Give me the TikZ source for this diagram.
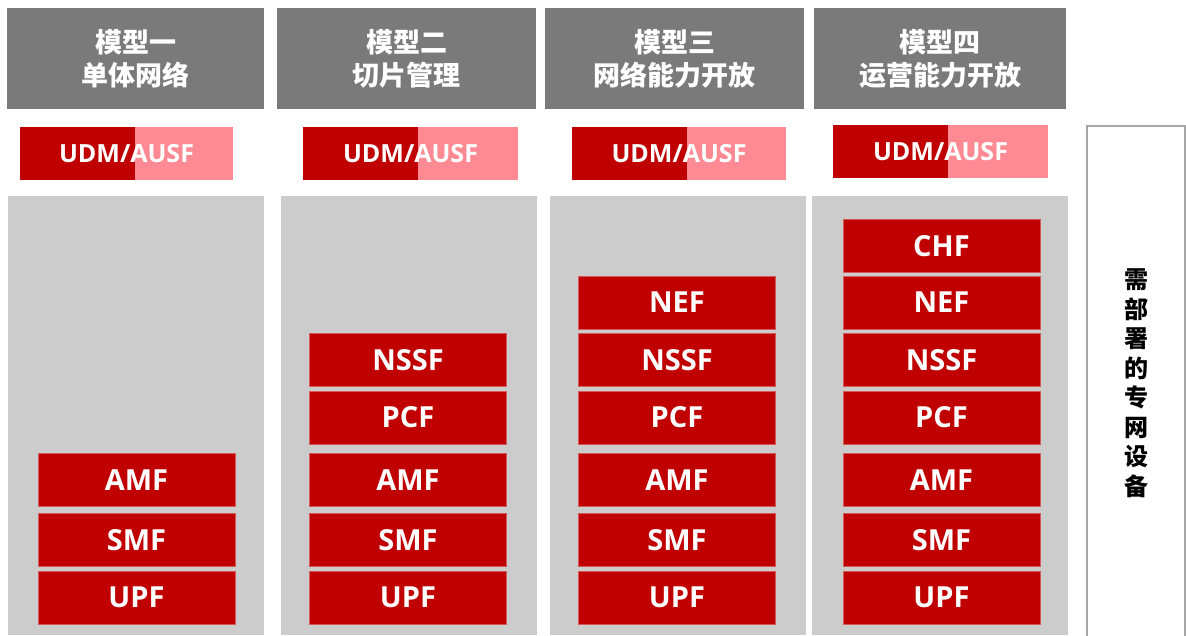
\documentclass[tikz,border=0pt]{standalone}
\usepackage{fontspec}
\setmainfont{Open Sans}
\newfontfamily\cjk{Noto Sans CJK SC}
\definecolor{hdgray}{HTML}{7A7A7A}
\definecolor{ltgray}{HTML}{CCCCCC}
\definecolor{darkred}{HTML}{C00000}
\definecolor{pinkred}{HTML}{FF8A93}
\definecolor{edgered}{HTML}{D65A5A}
\definecolor{boxgray}{HTML}{A6A6A6}

\begin{document}
\begin{tikzpicture}[x=1pt,y=-1pt,
    head/.style={fill=hdgray,text=white,minimum width=257pt,minimum height=101pt,inner sep=0pt,
      align=center,font=\cjk\bfseries\fontsize{27}{33}\selectfont},
    panel/.style={fill=ltgray,minimum width=256pt,minimum height=439pt,inner sep=0pt},
    udm/.style={fill=pinkred,text=white,minimum width=214pt,minimum height=53pt,inner sep=0pt,
      text height=18.5pt,text depth=0pt,font=\bfseries\fontsize{25}{25}\selectfont,
      path picture={\fill[darkred] (path picture bounding box.north west)
        rectangle ([xshift=115pt]path picture bounding box.south west);}},
    nf/.style={fill=darkred,draw=edgered,line width=0.6pt,text=white,minimum width=197pt,
      minimum height=53pt,inner sep=0pt,font=\bfseries\fontsize{29}{29}\selectfont}]
  \useasboundingbox (0,0) rectangle (1186,635);

  \node[head] (head1) at (135.5,58.5) {模型一\\单体网络};
  \node[head,minimum width=259pt] (head2) at (406.5,58.5) {模型二\\切片管理};
  \node[head,minimum width=259pt] (head3) at (674.5,58.5) {模型三\\网络能力开放};
  \node[head,minimum width=252pt] (head4) at (940,58.5) {模型四\\运营能力开放};

  \node[udm,minimum width=213pt] (udm1) at (126.5,153.5) {UDM/AUSF};
  \node[udm,minimum width=215pt] (udm2) at (410.5,153.5) {UDM/AUSF};
  \node[udm] (udm3) at (679,153.5) {UDM/AUSF};
  \node[udm,minimum width=215pt] (udm4) at (940.5,151) {UDM/AUSF};

  \node[panel] (panel1) at (135.5,415.5) {};
  \node[panel] (panel2) at (409,415.5) {};
  \node[panel] (panel3) at (677.5,415.5) {};
  \node[panel] (panel4) at (940,415.5) {};

  \foreach \nm/\yy in {AMF/480,SMF/540,UPF/597.5}
    \node[nf] (\nm1) at (136.5,\yy) {\nm};
  \foreach \nm/\yy in {NSSF/360,PCF/417.5,AMF/480,SMF/540,UPF/597.5}
    \node[nf] (\nm2) at (408,\yy) {\nm};
  \foreach \nm/\yy in {NEF/302.5,NSSF/360,PCF/417.5,AMF/480,SMF/540,UPF/597.5}
    \node[nf] (\nm3) at (677,\yy) {\nm};
  \foreach \nm/\yy in {CHF/246,NEF/302.5,NSSF/360,PCF/417.5,AMF/480,SMF/540,UPF/597.5}
    \node[nf] (\nm4) at (941.5,\yy) {\nm};

  \node[draw=boxgray,line width=1.5pt,minimum width=98pt,minimum height=514pt,inner sep=0pt,
    align=center,font=\cjk\bfseries\fontsize{24}{29.5}\selectfont] (devices) at (1136,383)
    {需\\部\\署\\的\\专\\网\\设\\备};
\end{tikzpicture}
\end{document}
